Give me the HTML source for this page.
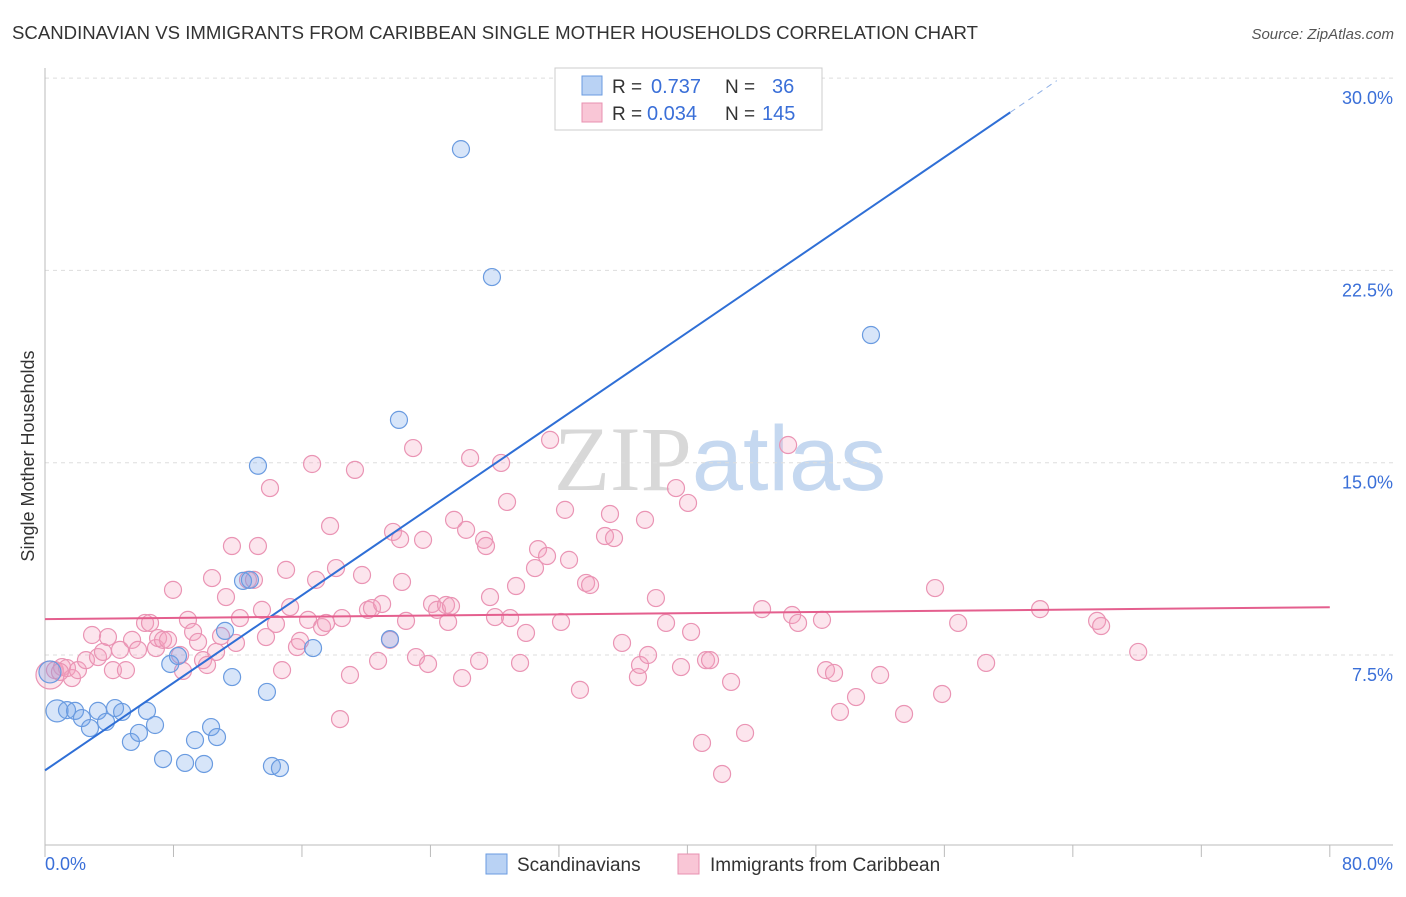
<!DOCTYPE html>
<html><head><meta charset="utf-8">
<style>
body{margin:0;background:#fff;font-family:"Liberation Sans",sans-serif;}
svg text{font-family:"Liberation Sans",sans-serif;}
</style></head>
<body>
<svg id="chart" width="1406" height="892" viewBox="0 0 1406 892" xmlns="http://www.w3.org/2000/svg">
<text x="12" y="39" font-size="18.6" fill="#333">SCANDINAVIAN VS IMMIGRANTS FROM CARIBBEAN SINGLE MOTHER HOUSEHOLDS CORRELATION CHART</text>
<text x="1394" y="39" font-size="15" fill="#555" text-anchor="end" font-style="italic">Source: ZipAtlas.com</text>
<text x="720" y="490" font-size="92" text-anchor="middle"><tspan fill="#d8d8d8" font-family="Liberation Serif">ZIP</tspan><tspan fill="#c5d8f0">atlas</tspan></text>
<g id="grid"></g>
<g id="axes"></g>
<g id="pts"></g>
<g id="lines"></g>
<text transform="translate(34,456) rotate(-90)" font-size="18" fill="#333" text-anchor="middle">Single Mother Households</text>
<g>
<rect x="555" y="68" width="267" height="62" fill="#fff" stroke="#ccc"/>
<rect x="582" y="76" width="20" height="19" fill="#b9d2f4" stroke="#6a9be0"/>
<text x="612" y="93" font-size="19" fill="#333">R =</text>
<text x="651" y="93" font-size="20" fill="#3a6fd8">0.737</text>
<text x="725" y="93" font-size="19" fill="#333">N =</text>
<text x="772" y="93" font-size="20" fill="#3a6fd8">36</text>
<rect x="582" y="103" width="20" height="19" fill="#f9c6d6" stroke="#e890b0"/>
<text x="612" y="120" font-size="19" fill="#333">R =</text>
<text x="647" y="120" font-size="20" fill="#3a6fd8">0.034</text>
<text x="725" y="120" font-size="19" fill="#333">N =</text>
<text x="762" y="120" font-size="20" fill="#3a6fd8">145</text>
</g>
<g>
<rect x="486" y="854" width="21" height="20" fill="#b9d2f4" stroke="#6a9be0"/>
<text x="517" y="871" font-size="19" fill="#333">Scandinavians</text>
<rect x="678" y="854" width="21" height="20" fill="#f9c6d6" stroke="#e890b0"/>
<text x="710" y="871" font-size="19" fill="#333">Immigrants from Caribbean</text>
</g>
</svg>
<script>
const yTicks=[7.5,15,22.5,30];
const yTickLabels=["7.5%","15.0%","22.5%","30.0%"];
const xTickLabels=["0.0%","80.0%"];
const blueX=[0.31,0.75,1.37,1.87,2.3,2.8,3.3,3.8,4.36,4.8,5.35,5.85,6.35,6.85,7.35,7.8,8.28,8.72,9.34,9.9,10.34,10.71,11.21,11.65,12.33,12.76,13.26,13.82,14.13,14.63,16.69,21.48,22.04,25.9,27.83,51.43];
const blueY=[6.84,5.32,5.35,5.32,5.04,4.65,5.32,4.89,5.43,5.28,4.11,4.46,5.32,4.77,3.44,7.15,7.46,3.29,4.18,3.25,4.69,4.3,8.44,6.64,10.39,10.43,14.88,6.06,3.17,3.09,7.77,8.12,16.67,27.23,22.24,19.98];
const pinkX=[0.31,0.62,1.06,1.37,1.68,2.05,2.55,2.93,3.30,3.61,3.92,4.23,4.67,5.04,5.42,5.79,6.23,6.54,6.91,7.04,7.35,7.66,7.97,8.41,8.59,8.90,9.22,9.53,9.84,10.09,10.40,10.65,10.96,11.27,11.64,11.89,12.14,12.64,13.01,13.26,13.51,13.76,14.01,14.38,14.76,15.01,15.26,15.69,15.88,16.38,16.63,16.88,17.25,17.50,17.75,18.12,18.49,18.99,19.30,18.37,19.74,20.11,20.36,20.74,20.99,21.48,21.67,22.11,22.23,22.48,22.92,23.10,23.54,23.85,24.10,24.41,24.97,25.28,25.10,25.47,25.97,26.22,26.47,27.03,27.34,27.46,27.71,28.02,28.40,28.77,28.96,29.33,29.58,29.95,30.51,30.70,31.26,31.45,32.13,32.38,32.63,33.31,33.69,33.94,34.87,35.18,35.43,35.93,36.92,37.05,37.36,37.55,38.04,38.67,39.29,39.60,40.04,40.23,40.91,41.16,41.41,42.16,42.72,43.59,44.65,46.27,46.52,46.89,48.38,48.63,49.13,49.50,50.50,52.00,53.49,55.42,55.86,56.86,58.60,61.96,65.51,65.76,68.07,0.93];
const pinkY=[6.72,6.91,7.03,6.99,6.60,6.91,7.30,8.28,7.42,7.62,8.20,6.91,7.70,6.91,8.09,7.70,8.75,8.75,7.77,8.16,8.09,8.09,10.04,7.50,6.88,8.87,8.40,8.01,7.30,7.11,10.50,7.62,8.24,9.76,11.75,7.97,8.94,10.43,10.43,11.75,9.26,8.20,14.01,8.71,6.91,10.82,9.37,7.81,8.05,8.87,14.95,10.43,8.59,8.75,12.53,10.89,8.94,6.72,14.72,5.00,10.62,9.26,9.33,7.27,9.49,8.09,12.30,12.02,10.35,8.83,15.57,7.42,11.99,7.15,9.49,9.26,9.45,9.41,8.79,12.77,6.60,12.38,15.18,7.27,11.99,11.75,9.76,8.98,14.99,13.47,8.94,10.19,7.19,8.36,10.89,11.63,11.36,15.89,8.79,13.16,11.21,6.14,10.31,10.23,12.14,13.00,12.06,7.97,6.64,7.11,12.77,7.50,9.72,8.75,14.01,7.03,13.43,8.40,4.07,7.30,7.30,2.86,6.45,4.46,9.29,15.69,9.06,8.75,8.87,6.91,6.80,5.28,5.86,6.72,5.20,10.11,5.98,8.75,7.19,9.29,8.83,8.63,7.62,6.84];
const blueLine=[3.0,0.427];
const pinkLine=[8.9,0.0058];
const NS="http://www.w3.org/2000/svg";
const X=v=>45+v*16.06;
const Y=v=>655-(v-7.5)*25.64;
function mk(tag,attrs,parent){const e=document.createElementNS(NS,tag);for(const k in attrs)e.setAttribute(k,attrs[k]);parent.appendChild(e);return e;}
const grid=document.getElementById('grid'),axes=document.getElementById('axes'),pts=document.getElementById('pts'),lines=document.getElementById('lines');
yTicks.forEach((t,i)=>{
 const l=mk('line',{x1:45,x2:1393,y1:Y(t),y2:Y(t),stroke:'#ddd','stroke-dasharray':'4,4'},grid);
 
 
 const tx=mk('text',{x:1393,y:Y(t)+26,'font-size':18,fill:'#3a6fd8','text-anchor':'end'},axes);
 tx.textContent=yTickLabels[i];
 
 
});
mk('line',{x1:45,x2:45,y1:68,y2:845,stroke:'#bbb'},axes);
mk('line',{x1:45,x2:1393,y1:845,y2:845,stroke:'#bbb'},axes);
for(let i=0;i<=10;i++){const t=mk('line',{x1:X(i*8),x2:X(i*8),y1:845,y2:857,stroke:'#bbb'},axes);
 
 }
const xl0=mk('text',{x:45,y:870,'font-size':18,fill:'#3a6fd8'},axes);xl0.textContent=xTickLabels[0];


const xl1=mk('text',{x:1393,y:870,'font-size':18,fill:'#3a6fd8','text-anchor':'end'},axes);xl1.textContent=xTickLabels[1];


pinkX.forEach((x,i)=>{const c=mk('circle',{cx:X(x),cy:Y(pinkY[i]),r:i===0?14:8.5,fill:'rgba(244,160,190,0.28)',stroke:'#ea94b4','stroke-width':1.2},pts);
 
 });
blueX.forEach((x,i)=>{const c=mk('circle',{cx:X(x),cy:Y(blueY[i]),r:i<2?11:8.5,fill:'rgba(110,160,235,0.28)',stroke:'#6a9be0','stroke-width':1.2},pts);
 
 });
const bx2=60.1,bx3=63;
const bl=mk('line',{x1:X(0),y1:Y(blueLine[0]),x2:X(bx2),y2:Y(blueLine[0]+blueLine[1]*bx2),stroke:'#2f6fd6','stroke-width':2},lines);


const bd=mk('line',{x1:X(bx2),y1:Y(blueLine[0]+blueLine[1]*bx2),x2:X(bx3),y2:Y(blueLine[0]+blueLine[1]*bx3),stroke:'#8fb0e6','stroke-width':1,'stroke-dasharray':'6,5'},lines);


const pl=mk('line',{x1:X(0),y1:Y(pinkLine[0]),x2:X(80),y2:Y(pinkLine[0]+pinkLine[1]*80),stroke:'#e45f8e','stroke-width':2},lines);


</script>
</body></html>
